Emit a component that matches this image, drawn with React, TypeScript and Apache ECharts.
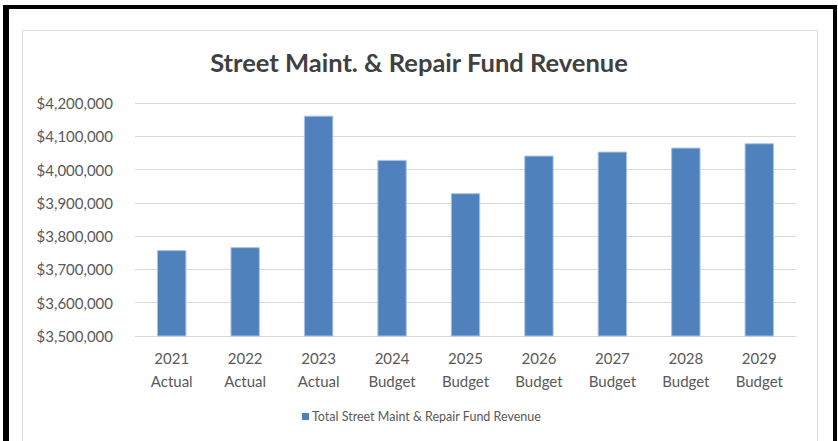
import React, { useEffect, useRef } from "react";
import * as echarts from "echarts";

const categories = [
  "2021\nActual",
  "2022\nActual",
  "2023\nActual",
  "2024\nBudget",
  "2025\nBudget",
  "2026\nBudget",
  "2027\nBudget",
  "2028\nBudget",
  "2029\nBudget",
];
const revenue = [3758000, 3767000, 4162000, 4029000, 3929000, 4042000, 4054000, 4066000, 4079000];
const seriesName = "Total Street Maint & Repair Fund Revenue";
const title = "Street Maint. & Repair Fund Revenue";
const yMin = 3500000;
const yMax = 4200000;
const yStep = 100000;

const FONT = "Lato, 'Open Sans', sans-serif";

export default function App() {
  const ref = useRef<HTMLDivElement>(null);
  useEffect(() => {
    if (!ref.current) return;
    const chart = echarts.init(ref.current, null, { renderer: "svg" });
    chart.setOption({
      animation: false,
      backgroundColor: "#ffffff",
      textStyle: { fontFamily: FONT },
      title: {
        text: title,
        left: "center",
        top: 44,
        textStyle: { fontFamily: FONT, fontSize: 25.5, fontWeight: "bold", color: "#404040" },
      },
      grid: { left: 135, right: 42, top: 103, bottom: 105, containLabel: false },
      legend: {
        data: [seriesName],
        left: 297,
        top: 405,
        icon: "rect",
        itemWidth: 7,
        itemHeight: 7,
        itemGap: 4,
        itemStyle: { borderWidth: 0, color: "#4F81BD" },
        textStyle: { fontFamily: FONT, fontSize: 12.5, color: "#595959", padding: [0, 0, 0, -2] },
      },
      xAxis: {
        type: "category",
        data: categories,
        axisLine: { show: true, lineStyle: { color: "#D9D9D9", width: 1 } },
        axisTick: { show: false },
        axisLabel: {
          fontFamily: FONT,
          fontSize: 15,
          color: "#595959",
          lineHeight: 23,
          margin: 10,
          interval: 0,
        },
      },
      yAxis: {
        type: "value",
        min: yMin,
        max: yMax,
        interval: yStep,
        axisLine: { show: false },
        axisTick: { show: false },
        splitLine: { lineStyle: { color: "#D9D9D9", width: 1 } },
        axisLabel: {
          fontFamily: FONT,
          fontSize: 15,
          color: "#595959",
          margin: 22,
          formatter: (v: number) => "$" + v.toLocaleString("en-US"),
        },
      },
      series: [
        {
          name: seriesName,
          type: "bar",
          data: revenue,
          barWidth: "40%",
          itemStyle: { color: "#4F81BD", borderColor: "#A9C2E2", borderWidth: 1 },
        },
      ],
      graphic: [
        {
          type: "rect",
          shape: { x: 22.5, y: 30.5, width: 795, height: 420 },
          style: { fill: "none", stroke: "#D9D9D9", lineWidth: 1 },
          silent: true,
        },
        { type: "rect", shape: { x: 3, y: 5, width: 834, height: 4 }, style: { fill: "#000" }, silent: true },
        { type: "rect", shape: { x: 3, y: 5, width: 6, height: 436 }, style: { fill: "#000" }, silent: true },
        { type: "rect", shape: { x: 833, y: 5, width: 4, height: 436 }, style: { fill: "#000" }, silent: true },
      ],
    });
    return () => chart.dispose();
  }, []);
  return (
    <div
      ref={ref}
      style={{ position: "fixed", left: 0, top: 0, width: 838, height: 441 }}
    />
  );
}
